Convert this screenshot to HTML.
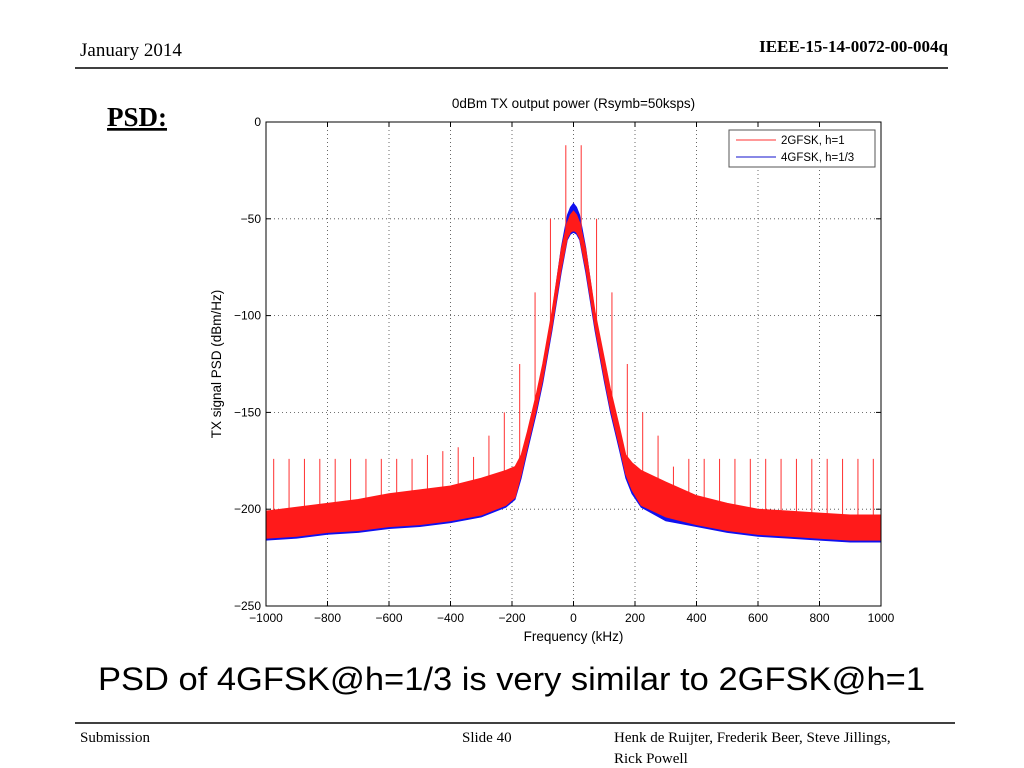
<!DOCTYPE html>
<html><head><meta charset="utf-8"><style>
html,body{margin:0;padding:0;background:#fff;width:1024px;height:768px;overflow:hidden}
</style></head><body>
<svg width="1024" height="768" viewBox="0 0 1024 768" xmlns="http://www.w3.org/2000/svg">
<text x="80" y="56" font-size="19" font-family="Liberation Serif">January 2014</text>
<text x="948" y="52" font-size="17" font-weight="bold" text-anchor="end" font-family="Liberation Serif">IEEE-15-14-0072-00-004q</text>
<line x1="75" y1="68" x2="948" y2="68" stroke="#000" stroke-width="1.5"/>
<text x="107" y="126" font-size="27" font-weight="bold" text-decoration="underline" font-family="Liberation Serif">PSD:</text>
<text x="98" y="690" font-size="32" textLength="827" lengthAdjust="spacingAndGlyphs" font-family="Liberation Sans">PSD of 4GFSK@h=1/3 is very similar to 2GFSK@h=1</text>
<line x1="75" y1="723" x2="955" y2="723" stroke="#000" stroke-width="1.5"/>
<text x="80" y="742" font-size="15" font-family="Liberation Serif">Submission</text>
<text x="462" y="742" font-size="15" font-family="Liberation Serif">Slide 40</text>
<text x="614" y="742" font-size="15" font-family="Liberation Serif">Henk de Ruijter, Frederik Beer, Steve Jillings,</text>
<text x="614" y="763" font-size="15" font-family="Liberation Serif">Rick Powell</text>
<g id="chart"></g>
</svg>
<script>
const xTicks=[-1000,-800,-600,-400,-200,0,200,400,600,800,1000];
const yTicks=[0,-50,-100,-150,-200,-250];
const freqs=[-1000,-900,-800,-700,-600,-500,-400,-300,-220,-190,-170,-150,-120,-100,-70,-40,-20,-10,0,10,20,40,70,100,120,150,170,190,220,300,400,500,600,700,800,900,1000];
const redUpper=[-201,-199,-197,-195,-192,-190,-188,-184,-180,-178,-172,-160,-140,-125,-98,-66,-52,-48,-46,-48,-52,-66,-98,-122,-138,-158,-172,-176,-180,-186,-193,-197,-200,-201,-202,-203,-203];
const redLower=[-215,-214,-212,-211,-209,-208,-206,-203,-198,-194,-182,-168,-148,-133,-106,-76,-60,-57,-56,-57,-60,-76,-106,-132,-148,-168,-182,-190,-198,-204,-208,-211,-213,-214,-215,-216,-216];
const blueUpper=[-204,-202,-200,-198,-196,-194,-192,-188,-184,-182,-176,-162,-142,-127,-99,-65,-48,-44,-42,-44,-48,-65,-99,-125,-140,-160,-175,-180,-184,-189,-196,-200,-203,-204,-205,-206,-206];
const blueLower=[-216,-215,-213,-212,-210,-209,-207,-204,-199,-195,-184,-170,-150,-135,-108,-78,-61,-58,-57,-58,-61,-78,-108,-134,-150,-170,-184,-192,-199,-206,-209,-212,-214,-215,-216,-217,-217];
const spikeFreqs=[-975,-925,-875,-825,-775,-725,-675,-625,-575,-525,-475,-425,-375,-325,-275,-225,-175,-125,-75,-25,25,75,125,175,225,275,325,375,425,475,525,575,625,675,725,775,825,875,925,975];
const spikeTops=[-174,-174,-174,-174,-174,-174,-174,-174,-174,-174,-172,-170,-168,-173,-162,-150,-125,-88,-50,-12,-12,-50,-88,-125,-150,-162,-178,-174,-174,-174,-174,-174,-174,-174,-174,-174,-174,-174,-174,-174];
const NS="http://www.w3.org/2000/svg";
const L=266,R=881,T=122,B=606;
function xs(f){return L+(f+1000)/2000*(R-L);}
function ys(v){return T+(0-v)/250*(B-T);}
function interp(arr,f){for(let i=0;i<freqs.length-1;i++){if(f>=freqs[i]&&f<=freqs[i+1]){const t=(f-freqs[i])/(freqs[i+1]-freqs[i]);return arr[i]+t*(arr[i+1]-arr[i]);}}return arr[arr.length-1];}
const g=document.getElementById('chart');
function mk(t,a,p){const e=document.createElementNS(NS,t);for(const k in a)e.setAttribute(k,a[k]);(p||g).appendChild(e);return e;}
mk('rect',{x:L,y:T,width:R-L,height:B-T,fill:'#fff',stroke:'none'});
xTicks.forEach(t=>{if(t>-1000&&t<1000){const e=mk('line',{x1:xs(t),x2:xs(t),y1:T,y2:B,stroke:'#444','stroke-width':0.8,'stroke-dasharray':'1 3'});

}
const tx=mk('text',{x:xs(t),y:B+16,'font-size':12,'text-anchor':'middle','font-family':'Liberation Sans'});tx.textContent=(t<0?'\u2212':'')+Math.abs(t);


mk('line',{x1:xs(t),x2:xs(t),y1:B,y2:B-5,stroke:'#000'});mk('line',{x1:xs(t),x2:xs(t),y1:T,y2:T+5,stroke:'#000'});});
yTicks.forEach(t=>{if(t<0&&t>-250){const e=mk('line',{x1:L,x2:R,y1:ys(t),y2:ys(t),stroke:'#444','stroke-width':0.8,'stroke-dasharray':'1 3'});

}
const tx=mk('text',{x:L-5,y:ys(t)+4,'font-size':12,'text-anchor':'end','font-family':'Liberation Sans'});tx.textContent=(t<0?'\u2212':'')+Math.abs(t);


mk('line',{x1:L,x2:L+5,y1:ys(t),y2:ys(t),stroke:'#000'});mk('line',{x1:R,x2:R-5,y1:ys(t),y2:ys(t),stroke:'#000'});});
function band(up,lo,col,name,sw){let pts=freqs.map((f,i)=>xs(f)+','+ys(up[i]));for(let i=freqs.length-1;i>=0;i--)pts.push(xs(freqs[i])+','+ys(lo[i]));
const p=mk('polygon',{points:pts.join(' '),fill:col,stroke:col,'stroke-width':sw});

}
band(blueUpper,blueLower,'#1010ee','series-4gfsk',0.8);
spikeFreqs.forEach((f,i)=>{const s=mk('line',{x1:xs(f),x2:xs(f),y1:ys(spikeTops[i]),y2:ys(interp(redUpper,f))+2,stroke:'#ff3030','stroke-width':1});

});
band(redUpper,redLower,'#ff1a1a','series-2gfsk',1);
mk('rect',{x:L,y:T,width:R-L,height:B-T,fill:'none',stroke:'#000','stroke-width':1});
const ti=mk('text',{x:(L+R)/2,y:108,'font-size':13.5,'text-anchor':'middle','font-family':'Liberation Sans'});ti.textContent='0dBm TX output power (Rsymb=50ksps)';


const xl=mk('text',{x:(L+R)/2,y:641,'font-size':13.5,'text-anchor':'middle','font-family':'Liberation Sans'});xl.textContent='Frequency (kHz)';


const yl=mk('text',{x:0,y:0,'font-size':13.5,'text-anchor':'middle','font-family':'Liberation Sans',transform:'translate(221,364) rotate(-90)'});yl.textContent='TX signal PSD (dBm/Hz)';


const lg=mk('g',{});


mk('rect',{x:729,y:130,width:146,height:37,fill:'#fff',stroke:'#555'},lg);
mk('line',{x1:736,x2:776,y1:140,y2:140,stroke:'#ff3030'},lg);
mk('line',{x1:736,x2:776,y1:157,y2:157,stroke:'#1010cc'},lg);
const t1=mk('text',{x:781,y:144,'font-size':11.5,'font-family':'Liberation Sans'},lg);t1.textContent='2GFSK, h=1';


const t2=mk('text',{x:781,y:161,'font-size':11.5,'font-family':'Liberation Sans'},lg);t2.textContent='4GFSK, h=1/3';


</script>
</body></html>
